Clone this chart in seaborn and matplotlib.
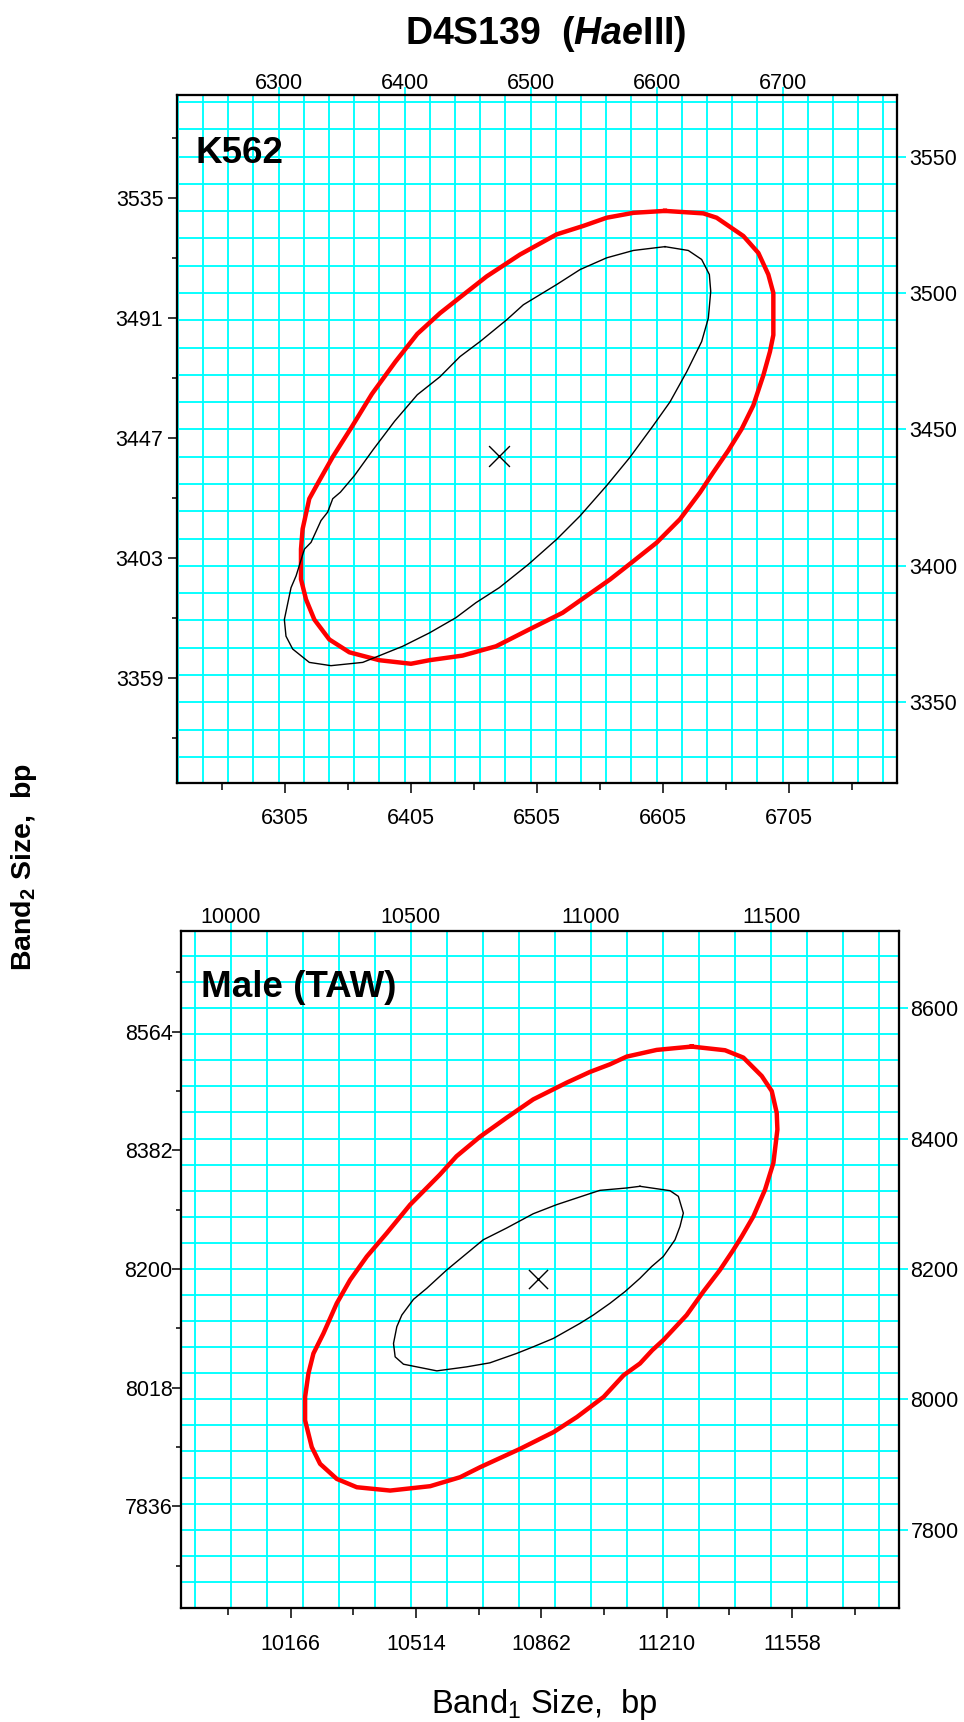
import matplotlib
matplotlib.use("Agg")
import matplotlib.pyplot as plt
from matplotlib.ticker import MultipleLocator
import seaborn as sns

plt.rcParams['font.family'] = ['Liberation Sans', 'DejaVu Sans']
plt.rcParams['mathtext.fontset'] = 'custom'
plt.rcParams['mathtext.rm'] = 'Liberation Sans'
plt.rcParams['mathtext.bf'] = 'Liberation Sans:bold'
plt.rcParams['mathtext.it'] = 'Liberation Sans:italic:bold'

# ---------------- data: K562 panel ----------------
k562_outer_x = [6606.6, 6637.0, 6647.6, 6668.8, 6680.7, 6688.6, 6692.6, 6692.6, 6689.9, 6684.7,
                6676.7, 6667.5, 6656.9, 6645.0, 6634.4, 6618.5, 6600.0, 6581.5, 6563.0, 6551.9,
                6525.4, 6498.9, 6472.5, 6446.0, 6419.6, 6405.0, 6379.9, 6356.1, 6340.2, 6328.3,
                6321.7, 6317.7, 6317.7, 6319.0, 6324.3, 6331.5, 6343.0, 6357.7, 6374.0, 6392.6,
                6410.0, 6428.0, 6443.9, 6465.1, 6491.5, 6520.6, 6541.8, 6560.3, 6581.5]
k562_outer_y = [3530.1, 3529.2, 3527.6, 3520.9, 3514.7, 3506.8, 3500.0, 3484.6, 3478.5, 3469.9,
                3458.8, 3450.2, 3442.3, 3434.3, 3426.9, 3417.1, 3408.5, 3401.7, 3395.0, 3391.4,
                3382.8, 3376.7, 3370.5, 3367.1, 3365.4, 3364.1, 3365.4, 3368.3, 3373.0, 3380.3,
                3387.7, 3395.1, 3406.1, 3413.5, 3424.6, 3430.6, 3440.0, 3450.7, 3463.0, 3474.8,
                3485.0, 3492.6, 3498.4, 3506.1, 3514.1, 3521.5, 3524.6, 3527.6, 3529.4]
k562_inner_x = [6606.6, 6625.1, 6635.7, 6641.8, 6642.9, 6641.0, 6635.7, 6623.8, 6610.6, 6597.4,
                6578.8, 6560.3, 6539.2, 6520.6, 6498.1, 6475.1, 6456.6, 6440.7, 6419.6, 6398.4,
                6366.7, 6341.5, 6324.3, 6311.1, 6305.8, 6304.5, 6309.8, 6313.8, 6320.4, 6325.7,
                6333.6, 6338.9, 6342.9, 6349.0, 6360.0, 6375.0, 6392.0, 6410.0, 6428.0, 6443.9,
                6459.8, 6481.0, 6494.2, 6520.6, 6539.2, 6560.3, 6581.5]
k562_inner_y = [3517.0, 3515.6, 3512.3, 3506.8, 3500.6, 3490.8, 3482.2, 3471.1, 3460.1, 3451.5,
                3439.8, 3429.4, 3418.3, 3409.7, 3400.5, 3392.0, 3386.5, 3381.0, 3375.4, 3370.5,
                3364.6, 3363.4, 3364.6, 3369.5, 3374.2, 3380.3, 3392.0, 3396.3, 3406.1, 3408.6,
                3416.6, 3419.7, 3424.6, 3427.0, 3433.0, 3442.6, 3453.0, 3462.7, 3469.3, 3476.7,
                3482.2, 3490.2, 3495.7, 3503.1, 3508.6, 3512.9, 3515.6]
k562_center_x = [6474.6]
k562_center_y = [3440.1]
k562_bottom_ticks = [6305, 6405, 6505, 6605, 6705]
k562_bottom_minor = [6255, 6355, 6455, 6555, 6655, 6755]
k562_left_ticks = [3359, 3403, 3447, 3491, 3535]
k562_left_minor = [3337, 3381, 3425, 3469, 3513, 3557]
k562_top_ticks = [6300, 6400, 6500, 6600, 6700]
k562_right_ticks = [3350, 3400, 3450, 3500, 3550]

# ---------------- data: Male (TAW) panel ----------------
taw_outer_x = [11279.6, 11372.2, 11423.1, 11474.1, 11501.9, 11515.7, 11517.6, 11506.5, 11483.3, 11450.9,
               11418.5, 11395.4, 11358.3, 11312.0, 11265.7, 11200.9, 11170.4, 11136.1, 11090.7, 11035.2,
               10961.1, 10896.3, 10803.7, 10692.6, 10637.0, 10553.7, 10442.6, 10350.0, 10294.4, 10248.1,
               10225.0, 10206.5, 10206.5, 10215.7, 10229.6, 10257.4, 10294.4, 10331.5, 10377.8, 10433.3,
               10498.1, 10580.6, 10626.9, 10691.7, 10765.7, 10839.8, 10932.4, 10997.2, 11052.8, 11099.1,
               11182.4]
taw_outer_y = [8541.0, 8535.4, 8524.1, 8495.9, 8472.8, 8439.5, 8413.8, 8362.6, 8321.5, 8280.5,
               8249.7, 8229.2, 8198.5, 8165.1, 8129.2, 8090.8, 8075.4, 8054.9, 8036.9, 8003.6,
               7972.8, 7949.7, 7924.1, 7895.9, 7880.5, 7866.7, 7860.0, 7865.1, 7877.9, 7901.0,
               7926.7, 7967.7, 8003.6, 8039.5, 8070.3, 8101.0, 8147.2, 8183.1, 8219.0, 8254.9,
               8298.5, 8344.6, 8372.8, 8402.6, 8431.8, 8460.0, 8485.6, 8502.1, 8513.8, 8525.6,
               8535.9]
taw_inner_x = [11136.1, 11219.4, 11242.6, 11256.5, 11247.2, 11233.3, 11200.9, 11168.5, 11136.1, 11094.4,
               11052.8, 11006.5, 10969.4, 10895.4, 10839.8, 10793.5, 10719.4, 10654.6, 10572.2, 10479.6,
               10456.5, 10451.9, 10461.1, 10475.0, 10507.4, 10544.4, 10600.0, 10700.9, 10765.7, 10839.8,
               10904.6, 10988.0, 11025.0, 11099.1]
taw_inner_y = [8326.7, 8320.0, 8311.3, 8285.6, 8265.1, 8244.6, 8219.0, 8203.6, 8185.6, 8165.1,
               8147.2, 8129.2, 8116.4, 8093.3, 8080.5, 8070.3, 8055.9, 8049.7, 8043.6, 8053.8,
               8065.1, 8085.6, 8111.3, 8129.2, 8153.3, 8170.3, 8198.5, 8244.6, 8262.6, 8284.6,
               8298.5, 8313.8, 8320.5, 8324.1]
taw_center_x = [10852.0]
taw_center_y = [8184.7]
taw_bottom_ticks = [10166, 10514, 10862, 11210, 11558]
taw_bottom_minor = [9992, 10340, 10688, 11036, 11384, 11732]
taw_left_ticks = [7836, 8018, 8200, 8382, 8564]
taw_left_minor = [7745, 7927, 8109, 8291, 8473, 8655]
taw_top_ticks = [10000, 10500, 11000, 11500]
taw_right_ticks = [7800, 8000, 8200, 8400, 8600]

CYAN = '#00ffff'
FS = 15.5

fig = plt.figure(figsize=(9.64, 17.22), dpi=100)


def closed(v):
    return list(v) + [v[0]]


def panel(rect, xlim, ylim, outer, inner, center, bmaj, bmin, lmaj, lmin,
          tmaj, rmaj, gdx, gdy, label, label_pos, left_pad, top_pad, right_pad,
          bottom_pad, msize):
    ax = fig.add_axes(rect)
    axt = ax.twiny()
    axr = ax.twinx()
    for a in (ax, axt, axr):
        a.set_xlim(xlim)
        a.set_ylim(ylim)
        for s in a.spines.values():
            s.set_linewidth(1.5)
            s.set_color('black')
    ax.set_zorder(3)
    ax.patch.set_visible(False)
    axt.set_zorder(1)
    axr.set_zorder(2)

    # grid (cyan) from twin axes
    axt.set_xticks(tmaj, labels=[str(v) for v in tmaj])
    axt.xaxis.set_minor_locator(MultipleLocator(gdx))
    axt.tick_params(axis='x', which='major', direction='out', length=5.8, width=1.3,
                    color=CYAN, labelcolor='black', labelsize=FS, pad=top_pad)
    axt.tick_params(axis='x', which='minor', length=0)
    axt.grid(axis='x', which='both', color=CYAN, linewidth=1.35)

    axr.set_yticks(rmaj, labels=[str(v) for v in rmaj])
    axr.yaxis.set_minor_locator(MultipleLocator(gdy))
    axr.tick_params(axis='y', which='major', direction='out', length=6.7, width=1.3,
                    color=CYAN, labelcolor='black', labelsize=FS, pad=right_pad)
    axr.tick_params(axis='y', which='minor', length=0)
    axr.grid(axis='y', which='both', color=CYAN, linewidth=1.35)

    # black ticks on bottom/left
    ax.set_xticks(bmaj, labels=[str(v) for v in bmaj])
    ax.set_xticks(bmin, minor=True)
    ax.set_yticks(lmaj, labels=[str(v) for v in lmaj])
    ax.set_yticks(lmin, minor=True)
    ax.tick_params(axis='x', which='major', direction='out', length=7.0, width=1.1,
                   color='black', labelsize=FS, pad=bottom_pad)
    ax.tick_params(axis='x', which='minor', direction='out', length=4.8, width=1.1, color='black')
    ax.tick_params(axis='y', which='major', direction='out', length=6.5, width=1.1,
                   color='black', labelsize=FS, pad=left_pad)
    ax.tick_params(axis='y', which='minor', direction='out', length=3.5, width=1.1, color='black')
    ax.grid(False)

    sns.lineplot(x=closed(outer[0]), y=closed(outer[1]), ax=ax, sort=False, estimator=None,
                 color='#ff0000', linewidth=3.2, solid_joinstyle='round')
    sns.lineplot(x=closed(inner[0]), y=closed(inner[1]), ax=ax, sort=False, estimator=None,
                 color='black', linewidth=1.0)
    sns.scatterplot(x=center[0], y=center[1], ax=ax, marker='x', s=msize, color='black',
                    linewidth=1.0)
    ax.set_xlabel('')
    ax.set_ylabel('')
    ax.set_xlim(xlim)
    ax.set_ylim(ylim)
    ax.text(label_pos[0], label_pos[1], label, transform=ax.transAxes, ha='left',
            va='baseline', fontsize=26.5, fontweight='bold')
    return ax


panel([177 / 964, 1 - 782.7 / 1722, 719.7 / 964, 688.0 / 1722],
      (6219.3, 6790.5), (3320.5, 3572.7),
      (k562_outer_x, k562_outer_y), (k562_inner_x, k562_inner_y),
      (k562_center_x, k562_center_y),
      k562_bottom_ticks, k562_bottom_minor, k562_left_ticks, k562_left_minor,
      k562_top_ticks, k562_right_ticks, 20, 10, 'K562', (0.0257, 0.9007),
      left_pad=3.4, top_pad=-5.0, right_pad=2.0, bottom_pad=11.2, msize=225)

panel([181 / 964, 1 - 1608.3 / 1722, 718.3 / 964, 677.5 / 1722],
      (9862, 11856), (7679.4, 8718.6),
      (taw_outer_x, taw_outer_y), (taw_inner_x, taw_inner_y),
      (taw_center_x, taw_center_y),
      taw_bottom_ticks, taw_bottom_minor, taw_left_ticks, taw_left_minor,
      taw_top_ticks, taw_right_ticks, 100, 40, 'Male (TAW)', (0.0285, 0.9027),
      left_pad=-0.3, top_pad=-3.5, right_pad=1.3, bottom_pad=11.7, msize=190)

fig.text(546 / 964, 1 - 44 / 1722, r"D4S139  ($\mathit{Hae}$III)", ha='center',
         va='baseline', fontsize=27, fontweight='bold')
fig.text(544 / 964, 1 - 1713.3 / 1722, r"Band$_\mathrm{1}$ Size,  bp", ha='center',
         va='baseline', fontsize=23.5)
fig.text(24 / 964, 1 - 867 / 1722, r"Band$_\mathbf{2}$ Size,  bp", ha='center',
         va='center', rotation=90, fontsize=20.5, fontweight='bold')

fig.savefig('out.png', dpi=100)
